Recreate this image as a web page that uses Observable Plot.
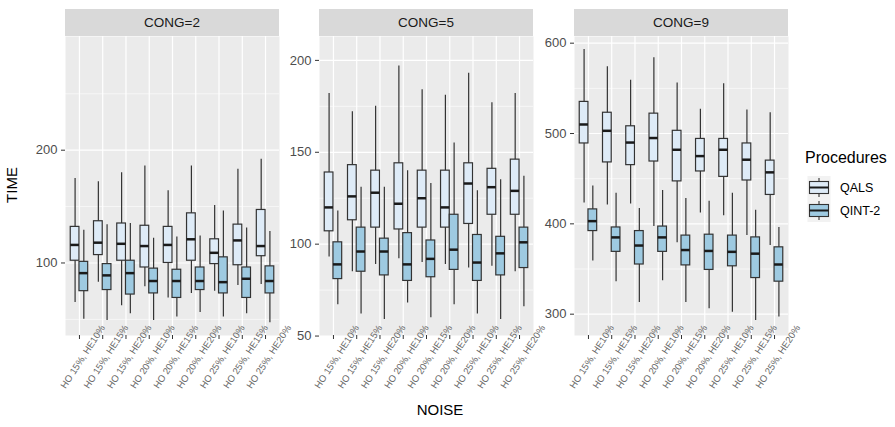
<!DOCTYPE html>
<html><head><meta charset="utf-8">
<script src="https://cdn.jsdelivr.net/npm/d3@7"></script>
<script src="https://cdn.jsdelivr.net/npm/@observablehq/plot@0.6"></script>
<style>
body{margin:0;background:#fff;font-family:"Liberation Sans",Arial,sans-serif;}
#root{position:relative;width:895px;height:427px;overflow:hidden;background:#fff;}
.strip{position:absolute;top:9px;height:27px;background:#d9d9d9;color:#1a1a1a;font-size:13.5px;text-align:center;line-height:27px;}
.panel{position:absolute;top:0;}
.panel svg{overflow:visible;}
.atitle{position:absolute;color:#000;font-size:15px;white-space:nowrap;}
</style></head><body><div id="root"></div>
<script>
const noise = ["HO 15%, HE10%","HO 15%, HE15%","HO 15%, HE20%","HO 20%, HE10%","HO 20%, HE15%","HO 20%, HE20%","HO 25%, HE10%","HO 25%, HE15%","HO 25%, HE20%"];
const procedures = ["QALS","QINT-2"];
const fills = ["#deebf7","#9ecae1"];
const facets = ["CONG=2","CONG=5","CONG=9"];
// each entry: [min, q1, median, q3, max]
const cong2_QALS = [[65,102,116,132,175],[83,107,118,137,172],[62,102,117,135,180],[79,96,115,133,186],[69,100,116,132,164],[73,102,121,144,186],[75,99,109,121,151],[80,98,120,134,183],[81,106,115,147,192]];
const cong2_QINT2 = [[50,75,91,101,129],[49,76,89,99,134],[55,72,91,102,135],[49,73,84,95,122],[52,69,84,94,123],[56,76,84,96,124],[52,73,83,105,146],[55,69,86,96,131],[47,73,84,97,128]];
const cong5_QALS = [[93,107,120,139,182],[85,113,126,143,172],[89,109,128,140,175],[92,108,122,144,197],[90,109,125,140,184],[89,109,120,140,181],[87,111,133,144,193],[88,116,131,141,177],[85,116,129,146,182]];
const cong5_QINT2 = [[67,81,89,101,118],[62,85,96,109,131],[59,83,96,103,131],[68,80,89,106,140],[60,82,92,102,133],[67,86,97,116,155],[62,80,90,105,129],[59,83,95,104,135],[66,87,101,109,137]];
const cong9_QALS = [[423,489,510,535,593],[421,468,503,523,574],[422,465,490,508,559],[397,469,495,522,584],[379,447,482,503,556],[412,458,475,494,527],[409,452,482,494,555],[387,448,471,489,526],[376,432,457,470,523]];
const cong9_QINT2 = [[359,392,403,416,442],[336,369,385,396,434],[313,355,376,392,417],[337,369,385,397,437],[313,354,371,387,428],[306,349,370,388,425],[302,353,369,387,434],[293,340,367,385,415],[297,336,355,374,396]];
const facetStats = [[cong2_QALS,cong2_QINT2],[cong5_QALS,cong5_QINT2],[cong9_QALS,cong9_QINT2]];
const yDomains = [[35.7,300.8],[50.3,213],[276.4,607.4]];
const yTicks = [[100,200],[50,100,150,200],[300,400,500,600]];
const yMinor = [[50,150,250],[75,125,175],[350,450,550]];

const root = document.getElementById("root");
const panelLeft = [65,319,574], PW = 214, PT = 36, PH = 299;
const ML = 45, MR = 30, MB = 80;
const half = 0.375;

facets.forEach((name,k)=>{
  const rows = [];
  facetStats[k].forEach((arr,p)=>arr.forEach((s,i)=>rows.push({i,p,proc:procedures[p],min:s[0],q1:s[1],med:s[2],q3:s[3],max:s[4]})));
  const lo = d => d.i + (d.p===0 ? -half : 0);
  const hi = d => d.i + (d.p===0 ? 0 : half);
  const mid = d => d.i + (d.p===0 ? -half/2 : half/2);
  const plot = Plot.plot({
    width: ML+PW+MR, height: PT+PH+MB,
    marginTop: PT, marginBottom: MB, marginLeft: ML, marginRight: MR,
    style:{background:"transparent", overflow:"visible", fontFamily:"'Liberation Sans',Arial,sans-serif"},
    x:{type:"linear", domain:[-0.6, noise.length-1+0.6], axis:null},
    y:{domain:yDomains[k], axis:null},
    color:{domain:procedures, range:fills},
    marks:[
      Plot.frame({fill:"#ebebeb"}),
      Plot.ruleY(yMinor[k], {stroke:"#fff", strokeWidth:0.6}),
      Plot.ruleY(yTicks[k].filter(v=>v>yDomains[k][0]), {stroke:"#fff", strokeWidth:1.2}),
      Plot.ruleX(d3.range(noise.length), {stroke:"#fff", strokeWidth:1.2}),
      Plot.ruleX(rows, {x:mid, y1:"min", y2:"max", stroke:"#333", strokeWidth:1.2}),
      Plot.rectY(rows, {x1:lo, x2:hi, y1:"q1", y2:"q3", fill:"proc", stroke:"#333", strokeWidth:1.2}),
      Plot.ruleY(rows, {y:"med", x1:lo, x2:hi, stroke:"#1a1a1a", strokeWidth:2.5}),
      Plot.axisY({ticks:yTicks[k], tickSize:4, tickPadding:4, fontSize:13, fill:"#4d4d4d", stroke:"#333", label:null}),
      Plot.axisX({ticks:d3.range(noise.length), tickSize:4, tickFormat:()=>"", stroke:"#333", label:null}),
      Plot.text(noise, {x:(d,i)=>i, frameAnchor:"bottom", text:d=>d, rotate:-57, dx:6, dy:23, fontSize:9.5, fill:"#666"})
    ]
  });
  const wrap = document.createElement("div");
  wrap.className = "panel";
  wrap.style.left = (panelLeft[k]-ML)+"px";
  wrap.appendChild(plot);
  root.appendChild(wrap);
  const strip = document.createElement("div");
  strip.className = "strip";
  strip.style.left = panelLeft[k]+"px";
  strip.style.width = PW+"px";
  strip.textContent = name;
  root.appendChild(strip);
});

// axis titles
const tTime = document.createElement("div");
tTime.className = "atitle"; tTime.textContent = "TIME";
tTime.style.left = "11px"; tTime.style.top = "185px";
tTime.style.transform = "translate(-50%,-50%) rotate(-90deg)";
root.appendChild(tTime);
const tNoise = document.createElement("div");
tNoise.className = "atitle"; tNoise.textContent = "NOISE";
tNoise.style.left = "440px"; tNoise.style.top = "409px";
tNoise.style.transform = "translate(-50%,-50%)";
root.appendChild(tNoise);

// legend
const lg = d3.select(root).append("svg").attr("width",100).attr("height",90)
  .style("position","absolute").style("left","800px").style("top","145px")
  .style("font-family","'Liberation Sans',Arial,sans-serif");
lg.append("text").attr("x",5).attr("y",18).attr("font-size",16).attr("fill","#000").text("Procedures");
procedures.forEach((p,j)=>{
  const g = lg.append("g").attr("transform",`translate(7.5,${31+j*23})`);
  g.append("rect").attr("width",23).attr("height",23).attr("fill","#f2f2f2");
  g.append("line").attr("x1",11.5).attr("x2",11.5).attr("y1",2).attr("y2",21).attr("stroke","#333").attr("stroke-width",1.1);
  g.append("rect").attr("x",2).attr("y",5.5).attr("width",19).attr("height",12).attr("fill",fills[j]).attr("stroke","#333").attr("stroke-width",1.1);
  g.append("line").attr("x1",2).attr("x2",21).attr("y1",11.5).attr("y2",11.5).attr("stroke","#1a1a1a").attr("stroke-width",2);
  lg.append("text").attr("x",40).attr("y",31+j*23+16).attr("font-size",12.5).attr("fill","#000").text(p);
});
</script></body></html>
